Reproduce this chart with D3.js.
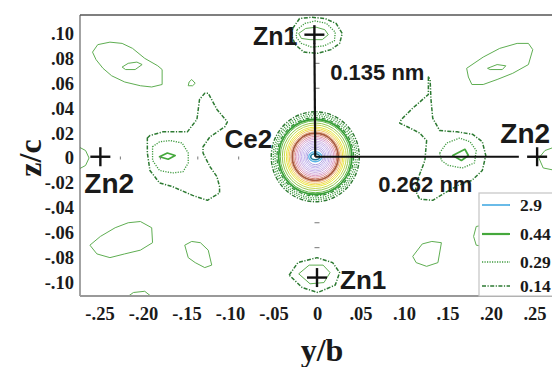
<!DOCTYPE html>
<html><head><meta charset="utf-8">
<script src="https://cdn.jsdelivr.net/npm/d3@7"></script>
<style>
html,body{margin:0;padding:0;background:#fff;}
svg{display:block;}
</style></head><body>
<svg id="chart" width="552" height="367"></svg>
<script>
// ---------- axis ticks ----------
const yTicks = [-0.25,-0.20,-0.15,-0.10,-0.05,0,0.05,0.10,0.15,0.20,0.25];
const yTickLabels = ["-.25","-.20","-.15","-.10","-.05","0",".05",".10",".15",".20",".25"];
const zTicks = [0.10,0.08,0.06,0.04,0.02,0,-0.02,-0.04,-0.06,-0.08,-0.10];
const zTickLabels = [".10",".08",".06",".04",".02","0","-.02","-.04","-.06","-.08","-.10"];

// ---------- legend levels ----------
const legendLevels = ["2.9","0.44","0.29","0.14"];

// ---------- atoms (y/b, z/c) ----------
const atomNames = ["Zn1","Zn1","Zn2","Zn2","Ce2"];
const atomY = [-0.003, 0.000, -0.249, 0.253, -0.002];
const atomZ = [0.099, -0.096, 0.001, 0.001, 0.001];

// bonds from Ce2 (y/b, z/c end points)
const bondEndY = [-0.003, 0.232];
const bondEndZ = [0.092, 0.001];
const bondLabels = ["0.135 nm","0.262 nm"];

// ---------- contour lines (y/b, z/c) ----------
const cTopLeft = [[-0.258,0.085],[-0.252,0.091],[-0.238,0.093],[-0.224,0.092],[-0.212,0.088],[-0.198,0.080],[-0.183,0.074],[-0.178,0.071],[-0.178,0.059],[-0.190,0.057],[-0.203,0.058],[-0.221,0.061],[-0.236,0.066],[-0.246,0.072],[-0.254,0.079]];
const cTopLeftIn = [[-0.224,0.073],[-0.217,0.076],[-0.207,0.077],[-0.201,0.075],[-0.209,0.071],[-0.220,0.071]];
const cDrop = [[-0.144,0.063],[-0.140,0.060],[-0.143,0.058],[-0.148,0.058],[-0.147,0.061]];
const cLeftDD = [[-0.195,0.016],[-0.192,0.018],[-0.177,0.021],[-0.149,0.021],[-0.138,0.031],[-0.135,0.047],[-0.129,0.052],[-0.125,0.052],[-0.115,0.039],[-0.103,0.029],[-0.106,0.025],[-0.123,0.017],[-0.131,0.009],[-0.131,0.004],[-0.123,-0.007],[-0.115,-0.015],[-0.112,-0.023],[-0.112,-0.028],[-0.126,-0.034],[-0.143,-0.030],[-0.166,-0.023],[-0.181,-0.020],[-0.192,-0.010],[-0.195,0.004]];
const cLeftDot = [[-0.189,0.009],[-0.181,0.013],[-0.169,0.014],[-0.155,0.012],[-0.148,0.004],[-0.148,-0.004],[-0.154,-0.011],[-0.166,-0.012],[-0.181,-0.010],[-0.189,-0.002]];
const cLeftCore = [[-0.181,0.001],[-0.172,0.004],[-0.163,0.002],[-0.171,-0.001]];
const cLeftEdge = [[-0.274,0.009],[-0.266,0.006],[-0.262,0.000],[-0.266,-0.006],[-0.274,-0.009]];
const cBotLeft = [[-0.261,-0.070],[-0.249,-0.063],[-0.232,-0.056],[-0.217,-0.052],[-0.203,-0.051],[-0.190,-0.056],[-0.189,-0.068],[-0.203,-0.074],[-0.221,-0.077],[-0.238,-0.080],[-0.253,-0.077]];
const cBotArc = [[-0.221,-0.113],[-0.211,-0.108],[-0.198,-0.107],[-0.189,-0.112]];
const cMidLow = [[-0.152,-0.070],[-0.144,-0.067],[-0.134,-0.068],[-0.125,-0.074],[-0.121,-0.086],[-0.129,-0.088],[-0.140,-0.084],[-0.148,-0.080]];
const cZn1TopDD = [[-0.028,0.104],[-0.020,0.112],[-0.006,0.113],[0.009,0.112],[0.022,0.108],[0.029,0.100],[0.026,0.092],[0.016,0.087],[0.001,0.084],[-0.015,0.085],[-0.025,0.091],[-0.029,0.098]];
const cZn1TopDot = [[-0.023,0.103],[-0.014,0.108],[-0.002,0.110],[0.011,0.108],[0.021,0.101],[0.020,0.094],[0.008,0.090],[-0.006,0.089],[-0.018,0.092],[-0.024,0.097]];
const cZn1TopCore = [[-0.021,0.100],[-0.013,0.104],[-0.001,0.105],[0.009,0.103],[0.013,0.099],[0.006,0.095],[-0.008,0.095],[-0.018,0.096]];
const cZn1BotDD = [[-0.032,-0.094],[-0.022,-0.084],[0.000,-0.080],[0.018,-0.084],[0.026,-0.092],[0.021,-0.102],[0.001,-0.108],[-0.017,-0.104]];
const cZn1BotCore = [[-0.021,-0.093],[-0.009,-0.086],[0.007,-0.086],[0.015,-0.092],[0.008,-0.100],[-0.008,-0.101]];
const cTopRight = [[0.172,0.072],[0.191,0.081],[0.210,0.088],[0.230,0.092],[0.243,0.092],[0.248,0.087],[0.243,0.075],[0.225,0.068],[0.207,0.063],[0.191,0.059],[0.178,0.059],[0.174,0.065]];
const cTopRightIn = [[0.196,0.072],[0.207,0.075],[0.217,0.074],[0.213,0.071],[0.199,0.071]];
const cRightDD = [[0.128,0.065],[0.128,0.051],[0.110,0.040],[0.097,0.031],[0.095,0.028],[0.107,0.024],[0.118,0.020],[0.126,0.014],[0.124,-0.002],[0.117,-0.015],[0.113,-0.026],[0.118,-0.033],[0.133,-0.034],[0.147,-0.028],[0.162,-0.022],[0.178,-0.018],[0.190,-0.010],[0.194,0.002],[0.190,0.013],[0.179,0.019],[0.161,0.021],[0.141,0.022],[0.133,0.032],[0.131,0.047],[0.130,0.063]];
const cRightDot = [[0.141,0.004],[0.149,0.012],[0.164,0.016],[0.176,0.013],[0.183,0.006],[0.181,-0.004],[0.167,-0.008],[0.151,-0.006],[0.143,-0.002]];
const cRightCore = [[0.156,0.002],[0.170,0.007],[0.174,0.002],[0.166,-0.002]];
const cRightEdge = [[0.274,0.009],[0.262,0.006],[0.255,0.000],[0.260,-0.008],[0.274,-0.010]];
const cLowRight = [[0.110,-0.079],[0.121,-0.069],[0.132,-0.067],[0.143,-0.068],[0.139,-0.084],[0.126,-0.087],[0.114,-0.084]];
const cBehindLegend = [[0.180,-0.063],[0.183,-0.055],[0.190,-0.054],[0.191,-0.071],[0.183,-0.070]];

const contourList = [cTopLeft,cTopLeftIn,cDrop,cLeftDD,cLeftDot,cLeftCore,cLeftEdge,cBotLeft,cBotArc,cMidLow,
  cZn1TopDD,cZn1TopDot,cZn1TopCore,cZn1BotDD,cZn1BotCore,cTopRight,cTopRightIn,cRightDD,cRightDot,cRightCore,
  cRightEdge,cLowRight,cBehindLegend];
const contourLevel = ["weak","weak","weak","0.14","0.29","0.44","weak","weak","weak","weak",
  "0.14","0.29","weak","0.14","weak","weak","weak","0.14","0.29","0.44",
  "weak","weak","weak"];
const contourClosed = [true,true,true,true,true,true,false,true,false,true,
  true,true,true,true,true,true,true,true,true,true,
  false,true,true];

// ---------- Ce2 concentric contour rings (half widths in y/b, half heights in z/c) ----------
const ringHalfY = [0.0506,0.0483,0.0462,0.0440,0.0421,0.0402,0.0379,0.0356,0.0333,0.0316,0.0299,0.0282,0.0264,0.0247,0.0230,0.0213,0.0195,0.0178,0.0161,0.0144,0.0126,0.0109,0.0092,0.0075,0.0052];
const ringHalfZ = [0.0361,0.0345,0.0330,0.0314,0.0301,0.0289,0.0271,0.0255,0.0238,0.0226,0.0214,0.0201,0.0189,0.0177,0.0164,0.0152,0.0140,0.0127,0.0115,0.0103,0.0090,0.0078,0.0064,0.0040,0.0024];

// ---------- styles ----------
const ringColor = ["#2d7a32","#3f9a3f","#3f9a3f","#2f8f33","#3aa03a","#62b648","#93c850","#c4d850","#e6e640","#efe048","#f2c866","#e8a877","#a85a3e","#d08070","#e095a5","#dca0c6","#d4aad8","#ccb0e2","#c6b2ea","#cec0f0","#c4b6ee","#b6a8e8","#a8a0e0","#5ab4e6","#1a7a9a"];
const ringWidth = [1.4,1.3,1.3,1.3,1.8,1,1,1,1,1,1,1,1.7,1,1,1,1,1,1,1,1,1,1,1.3,1.6];
const ringDash = ["4,1.5,1.2,1.5","1.2,1.3","1.2,1.3","4,1.5,1.2,1.5",null,null,null,null,null,null,null,null,null,null,null,null,null,null,null,null,null,null,null,null,null];
const styles = {
  "weak": {stroke:"#5fae52", w:1, dash:null},
  "2.9":  {stroke:"#5ab4e6", w:1.6, dash:null},
  "0.44": {stroke:"#45a83c", w:1.7, dash:null},
  "0.29": {stroke:"#3f9a3f", w:1.3, dash:"1.2,1.3"},
  "0.14": {stroke:"#2d7a32", w:1.5, dash:"4,1.5,1.2,1.5"}
};

// tiny grid marks seen in the map
const markY = [-0.226,-0.180,-0.137,-0.090];
const markZ = [0.076,0.056,-0.052,-0.072];

// ---------- drawing ----------
const svg = d3.select("#chart");
const x = d3.scaleLinear().domain([-0.2724, 0.2724]).range([80, 554]);
const z = d3.scaleLinear().domain([-0.1108, 0.1148]).range([296, 15]);

svg.append("defs").append("clipPath").attr("id","plotclip")
  .append("rect").attr("x",x(-0.2724)).attr("y",z(0.1148)).attr("width",x(0.2724)-x(-0.2724)).attr("height",z(-0.1108)-z(0.1148));

const plot = svg.append("g").attr("clip-path","url(#plotclip)");

const lineOpen = d3.line().x(d=>x(d[0])).y(d=>z(d[1])).curve(d3.curveLinear);
const lineClosed = d3.line().x(d=>x(d[0])).y(d=>z(d[1])).curve(d3.curveLinearClosed);

contourList.forEach((pts,i)=>{
  const st = styles[contourLevel[i]];
  plot.append("path")
    .attr("d", (contourClosed[i]?lineClosed:lineOpen)(pts))
    .attr("fill","none").attr("stroke",st.stroke).attr("stroke-width",st.w)
    .attr("stroke-dasharray",st.dash).attr("stroke-linejoin","round");
});

// Ce2 rings
const ce = 4;
ringHalfY.forEach((hy,i)=>{
  plot.append("ellipse")
    .attr("cx",x(atomY[ce])).attr("cy",z(atomZ[ce]))
    .attr("rx",x(hy)-x(0)).attr("ry",z(0)-z(ringHalfZ[i]))
    .attr("fill","none").attr("stroke",ringColor[i]).attr("stroke-width",ringWidth[i])
    .attr("stroke-dasharray",ringDash[i]);
});

// grid marks
markY.forEach(v=>{
  plot.append("line").attr("x1",x(v)).attr("x2",x(v)).attr("y1",z(0)-1.5).attr("y2",z(0)+1.5)
    .attr("stroke","#777").attr("stroke-width",1);
});
markZ.forEach(v=>{
  plot.append("line").attr("x1",x(0)-2.5).attr("x2",x(0)+2.5).attr("y1",z(v)).attr("y2",z(v))
    .attr("stroke","#777").attr("stroke-width",1);
});

// bonds
bondEndY.forEach((by,i)=>{
  plot.append("line")
    .attr("x1",x(atomY[ce])).attr("y1",z(atomZ[ce]))
    .attr("x2",x(by)).attr("y2",z(bondEndZ[i]))
    .attr("stroke","#111").attr("stroke-width",2.2);
});

// crosses on Zn atoms
for(let i=0;i<4;i++){
  const cx = x(atomY[i]), cy = z(atomZ[i]);
  plot.append("line").attr("x1",cx-10).attr("x2",cx+10).attr("y1",cy).attr("y2",cy)
    .attr("stroke","#111").attr("stroke-width",2.4);
  plot.append("line").attr("x1",cx).attr("x2",cx).attr("y1",cy-9.5).attr("y2",cy+9.5)
    .attr("stroke","#111").attr("stroke-width",2.4);
}

// atom labels
const atomLabelDx = [-17, 23, -16, 13, -43];
const atomLabelDy = [10, 11, 36, -14, -9];
const atomLabelAnchor = ["end","start","start","end","end"];
const atomLabelSize = [25, 26, 28, 28, 26];
atomNames.forEach((n,i)=>{
  svg.append("text")
    .attr("x",x(atomY[i])+atomLabelDx[i]).attr("y",z(atomZ[i])+atomLabelDy[i])
    .attr("text-anchor",atomLabelAnchor[i])
    .attr("font-family","'Liberation Sans', Arial, sans-serif").attr("font-weight","bold")
    .attr("font-size",atomLabelSize[i]).attr("fill","#1a1a1a").text(n);
});

// bond length labels
svg.append("text").attr("x",x(atomY[ce])+15).attr("y",z(bondEndZ[0])+37)
  .attr("font-family","'Liberation Sans', Arial, sans-serif").attr("font-weight","bold")
  .attr("font-size",22).attr("fill","#1a1a1a").text(bondLabels[0]);
svg.append("text").attr("x",x(atomY[ce])+63).attr("y",z(bondEndZ[1])+35)
  .attr("font-family","'Liberation Sans', Arial, sans-serif").attr("font-weight","bold")
  .attr("font-size",22).attr("fill","#1a1a1a").text(bondLabels[1]);

// frame
svg.append("line").attr("x1",80).attr("x2",80).attr("y1",z(0.1148)).attr("y2",z(-0.1108)).attr("stroke","#666").attr("stroke-width",1.2);
svg.append("line").attr("x1",80).attr("x2",552).attr("y1",z(0.1148)).attr("y2",z(0.1148)).attr("stroke","#555").attr("stroke-width",1.4);
svg.append("line").attr("x1",80).attr("x2",552).attr("y1",z(-0.1108)).attr("y2",z(-0.1108)).attr("stroke","#999").attr("stroke-width",2);

// axes
const serif = "'Liberation Serif','Times New Roman',serif";
const axL = svg.append("g").attr("transform","translate(80,0)")
  .call(d3.axisLeft(z).tickValues(zTicks).tickFormat((d,i)=>zTickLabels[i]).tickSize(0).tickPadding(6));
axL.select(".domain").remove();
axL.selectAll("text").attr("font-family",serif).attr("font-weight","bold").attr("font-size",18.5).attr("fill","#1a1a1a");

const axB = svg.append("g").attr("transform","translate(0,296)")
  .call(d3.axisBottom(x).tickValues(yTicks).tickFormat((d,i)=>yTickLabels[i]).tickSize(0).tickPadding(11));
axB.select(".domain").remove();
axB.selectAll("text").attr("font-family",serif).attr("font-weight","bold").attr("font-size",18.5).attr("fill","#1a1a1a");

// axis titles
svg.append("text").attr("transform","translate(41,"+z(0)+") rotate(-90)")
  .attr("text-anchor","middle").attr("font-family",serif).attr("font-weight","bold")
  .attr("font-size",32).attr("fill","#1a1a1a").text("z/c");
svg.append("text").attr("x",x(0)+5).attr("y",361)
  .attr("text-anchor","middle").attr("font-family",serif).attr("font-weight","bold")
  .attr("font-size",32).attr("fill","#1a1a1a").text("y/b");

// legend
const lg = svg.append("g").attr("transform","translate(479,193)");
lg.append("rect").attr("x",0).attr("y",0).attr("width",90).attr("height",103)
  .attr("fill","#fff").attr("stroke","#c4c4c4").attr("stroke-width",1.2);
const legRowY = [12, 41, 69, 93];
legendLevels.forEach((lv,i)=>{
  const st = styles[lv];
  lg.append("line").attr("x1",3).attr("x2",31).attr("y1",legRowY[i]).attr("y2",legRowY[i])
    .attr("stroke",st.stroke).attr("stroke-width",lv==="0.44"?2.2:(lv==="2.9"?1.8:st.w+0.2)).attr("stroke-dasharray",st.dash);
  lg.append("text").attr("x",41).attr("y",legRowY[i]).attr("dy","0.35em")
    .attr("font-family",serif).attr("font-weight","bold").attr("font-size",17.5).attr("fill","#1a1a1a").text(lv);
});
</script>
</body></html>
